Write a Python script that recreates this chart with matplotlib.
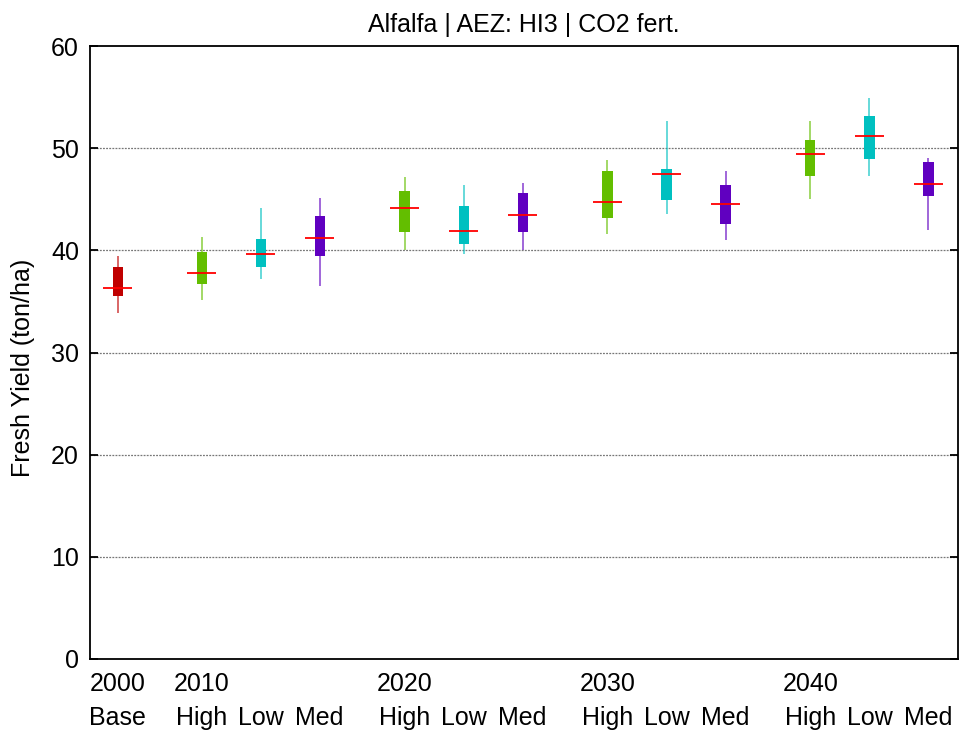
import matplotlib.pyplot as plt
import numpy as np

plt.rcParams['font.family'] = ['Liberation Sans', 'DejaVu Sans']

# data (ton/ha)
years = ["2000", "2010", "2020", "2030", "2040"]
scenarios = ["Base"] + ["High", "Low", "Med"] * 4
y_min = [33.9, 35.1, 37.2, 36.5, 40.0, 39.6, 40.0, 41.6, 43.6, 41.0, 45.0, 47.3, 42.0]
box_lo = [35.5, 36.7, 38.4, 39.4, 41.8, 40.6, 41.8, 43.2, 44.9, 42.6, 47.3, 48.9, 45.3]
median = [36.3, 37.8, 39.6, 41.2, 44.1, 41.9, 43.5, 44.7, 47.5, 44.5, 49.4, 51.2, 46.5]
box_hi = [38.4, 39.8, 41.1, 43.4, 45.8, 44.3, 45.6, 47.8, 48.0, 46.4, 50.8, 53.1, 48.6]
y_max = [39.4, 41.3, 44.1, 45.1, 47.2, 46.4, 46.6, 48.8, 52.7, 47.8, 52.7, 54.9, 49.0]

colors = {"Base": "#C00000", "High": "#63BE00", "Low": "#00C0C0", "Med": "#6000C0"}

# x positions: base alone, then groups of three
pos = [0.0]
for g in range(4):
    for k in range(3):
        pos.append(1.42 + 3.44 * g + k)
pos = np.array(pos)

fig = plt.figure(figsize=(9.66, 7.36), dpi=100)
ax = fig.add_axes([90 / 966, 77 / 736, 868 / 966, 613 / 736])

for i in range(len(pos)):
    c = colors[scenarios[i]]
    ax.vlines(pos[i], y_min[i], y_max[i], color=c, lw=1.4, alpha=0.6, zorder=2)
    ax.bar(pos[i], box_hi[i] - box_lo[i], bottom=box_lo[i], width=0.17,
           color=c, zorder=3)
    ax.hlines(median[i], pos[i] - 0.25, pos[i] + 0.25, color="#FF0000", lw=1.3, zorder=4)

ax.set_xlim(-0.47, 14.24)
ax.set_ylim(0, 60)
ax.set_yticks(range(0, 61, 10))
for yv in range(10, 60, 10):
    ax.axhline(yv, color="#777777", lw=0.9, ls=(0, (1.5, 1)), zorder=1)

ax.set_xticks([])
ax.tick_params(axis='y', direction='in', length=6, width=1.3, right=True,
               labelsize=18, pad=8)
for s in ax.spines.values():
    s.set_linewidth(1.3)

# two-row category labels
tr = ax.get_xaxis_transform()
year_idx = [0, 1, 4, 7, 10]
for yr, i in zip(years, year_idx):
    ax.text(pos[i], -0.041, yr, transform=tr, ha='center', va='center', fontsize=18)
for i, s in enumerate(scenarios):
    ax.text(pos[i], -0.096, s, transform=tr, ha='center', va='center', fontsize=18)

ax.set_title("Alfalfa | AEZ: HI3 | CO2 fert.", fontsize=18, pad=10)
fig.text(0.024, 0.50, "Fresh Yield (ton/ha)", rotation=90, ha='center', va='center',
         fontsize=18)

fig.savefig("out.png", dpi=100)
